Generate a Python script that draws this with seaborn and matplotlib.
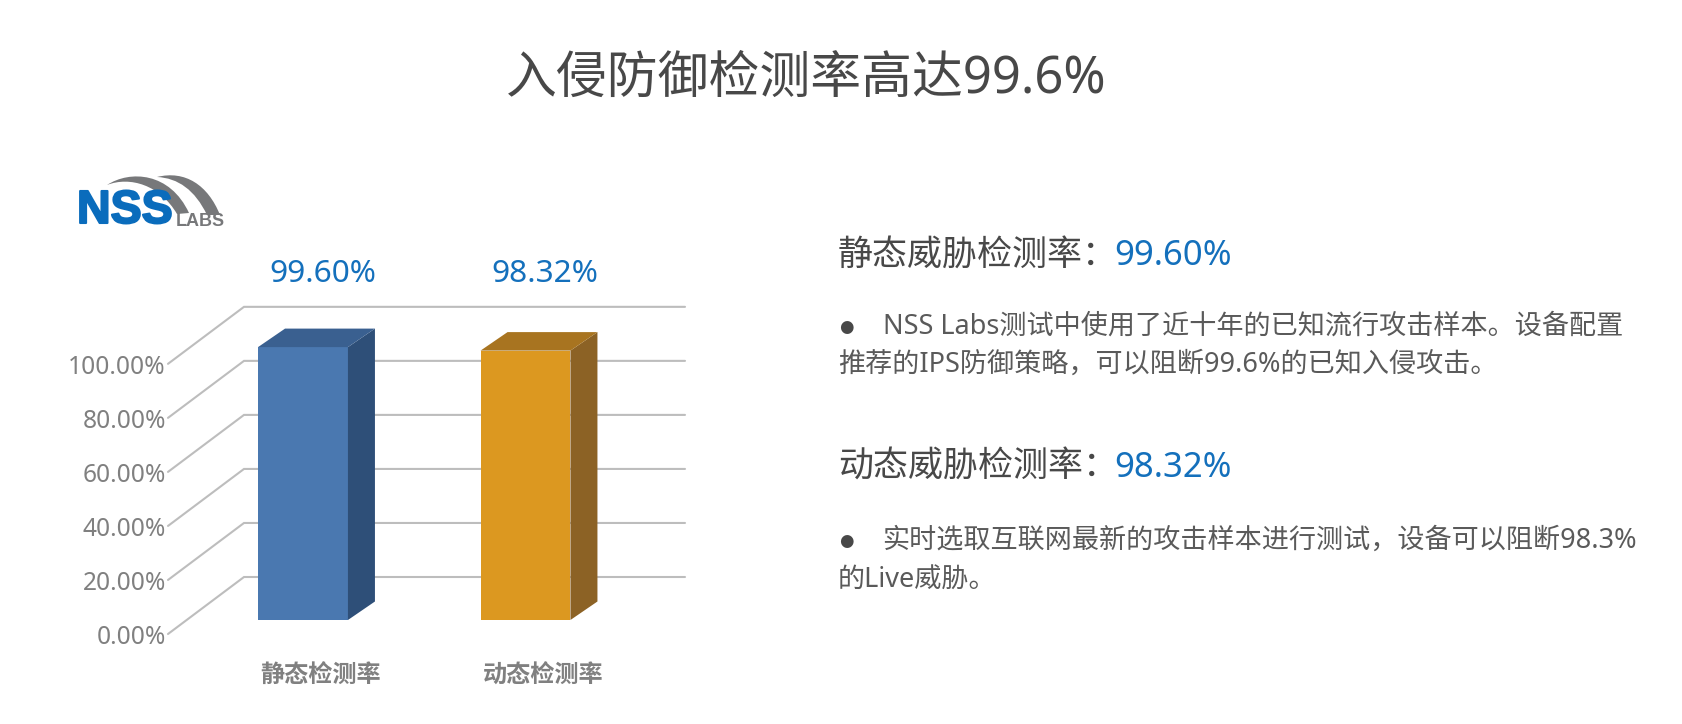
import matplotlib
matplotlib.use("Agg")
import matplotlib.pyplot as plt
import matplotlib.patheffects as pe
import pandas as pd
import seaborn as sns
from matplotlib.patches import Polygon, PathPatch
from matplotlib.path import Path

# 数据
categories = ["静态检测率", "动态检测率"]
rates = [99.60, 98.32]
rate_labels = ["99.60%", "98.32%"]
tick_values = [0, 20, 40, 60, 80, 100]
tick_labels = ["0.00%", "20.00%", "40.00%", "60.00%", "80.00%", "100.00%"]
front_colors = ["#4a78b0", "#dc9820"]
side_colors = ["#2e4f78", "#8c6225"]
top_colors = ["#3a6090", "#a87420"]

W, H = 1683, 724
BLUE = "#1470bc"
DARK = "#484848"
GRAY = "#808080"
LOGO_GRAY = "#77787a"

sns.set_style("white")
plt.rcParams["font.family"] = ["Noto Sans", "Noto Sans CJK SC", "DejaVu Sans"]

fig = plt.figure(figsize=(W / 100, H / 100), dpi=100, facecolor="white")

# 图表区 像素 x 168-685, y 300-640
ax = fig.add_axes([168 / W, (H - 640) / H, 517 / W, 340 / H])
df = pd.DataFrame({"类别": categories, "检测率": rates})
sns.barplot(data=df, x="类别", y="检测率", hue="类别", palette=front_colors,
            width=0.404, legend=False, saturation=1, linewidth=0, ax=ax, zorder=3)

px_x = 222.5   # 每个类别的像素
px_y = 2.74    # 每个百分点的像素
ax.set_xlim(-135 / px_x, 382 / px_x)
ax.set_ylim(-20 / px_y, 320 / px_y)

# 立体部分
dx, dy = 27 / px_x, 18.5 / px_y
for i, bar in enumerate(ax.patches[:2]):
    x0, w, h = bar.get_x(), bar.get_width(), bar.get_height()
    ax.add_patch(Polygon([(x0 + w, 0), (x0 + w + dx, dy), (x0 + w + dx, h + dy), (x0 + w, h)],
                         color=side_colors[i], zorder=3, lw=0))
    ax.add_patch(Polygon([(x0, h), (x0 + dx, h + dy), (x0 + w + dx, h + dy), (x0 + w, h)],
                         color=top_colors[i], zorder=3, lw=0))

# 网格线 (透视)
depth = 0.986
front_off = -14 / px_y
back_off = 43 / px_y
back_x = -59 / px_x
for v in tick_values:
    ax.plot([ax.get_xlim()[0], back_x, ax.get_xlim()[1]],
            [v * depth + front_off, v * depth + back_off, v * depth + back_off],
            color="#bdbdbd", lw=1.5, zorder=1, solid_joinstyle="miter", clip_on=False)

ax.set_yticks([v * depth + front_off - 1 / px_y for v in tick_values], tick_labels)
ax.set_xticks([0.08, 1.08], categories)
ax.tick_params(axis="y", length=0, pad=1.5, labelsize=17.7, labelcolor=GRAY)
ax.tick_params(axis="x", length=0, pad=18, labelsize=17.4, labelcolor=GRAY)
for t in ax.get_xticklabels():
    t.set_fontweight("bold")
ax.set_xlabel("")
ax.set_ylabel("")
sns.despine(ax=ax, left=True, bottom=True, top=True, right=True)
ax.patch.set_alpha(0)

# 文字层
ov = fig.add_axes([0, 0, 1, 1], zorder=5)
ov.set_xlim(0, W)
ov.set_ylim(H, 0)
ov.axis("off")

ov.text(806, 79, "入侵防御检测率高达99.6%", fontsize=36.6, color=DARK, ha="center", va="center")

ov.text(323, 274.5, rate_labels[0], fontsize=22.8, color=BLUE, ha="center", va="center")
ov.text(544.5, 274.5, rate_labels[1], fontsize=22.8, color=BLUE, ha="center", va="center")

ov.text(838, 256, "静态威胁检测率\uff1a", fontsize=25.2, color=DARK, va="center")
ov.text(1114, 256, rate_labels[0], fontsize=25.0, color=BLUE, va="center")
ov.text(838, 468, "动态威胁检测率\uff1a", fontsize=25.2, color=DARK, va="center")
ov.text(1114, 468, rate_labels[1], fontsize=25.0, color=BLUE, va="center")

body = [
    (883, 327, "NSS Labs测试中使用了近十年的已知流行攻击样本。设备配置"),
    (838, 365, "推荐的IPS防御策略\uff0c可以阻断99.6%的已知入侵攻击。"),
    (882, 541, "实时选取互联网最新的攻击样本进行测试\uff0c设备可以阻断98.3%"),
    (838, 581, "的Live威胁。"),
]
for x, y, s in body:
    ov.text(x, y, s, fontsize=19.5, color="#5a5a5a", va="center")
ov.text(846, 327, "●", fontsize=12, color=DARK, ha="center", va="center", family="DejaVu Sans")
ov.text(846, 541, "●", fontsize=12, color=DARK, ha="center", va="center", family="DejaVu Sans")

# NSS Labs 标志
ov.text(77, 211, "NSS", fontsize=33.5, fontweight="bold", color="#0a6cbc", va="center",
        family="Liberation Sans",
        path_effects=[pe.withStroke(linewidth=1.5, foreground="#0a6cbc")])
ov.text(176, 222, "LABS", fontsize=13, fontweight="bold", color=LOGO_GRAY, va="center",
        family="Liberation Sans")
arc_codes = [Path.MOVETO, Path.CURVE4, Path.CURVE4, Path.CURVE4, Path.LINETO,
             Path.CURVE4, Path.CURVE4, Path.CURVE4, Path.CLOSEPOLY]
arc1 = [(107, 185), (130, 170), (170, 172), (189, 213), (177, 214),
        (160, 185), (130, 176), (107, 185), (107, 185)]
arc2 = [(157, 177), (185, 170), (208, 185), (220, 215), (207, 215),
        (195, 190), (178, 178), (157, 177), (157, 177)]
ov.add_patch(PathPatch(Path(arc1, arc_codes), color=LOGO_GRAY, lw=0))
ov.add_patch(PathPatch(Path(arc2, arc_codes), color=LOGO_GRAY, lw=0))

fig.savefig("out.png", dpi=100)
